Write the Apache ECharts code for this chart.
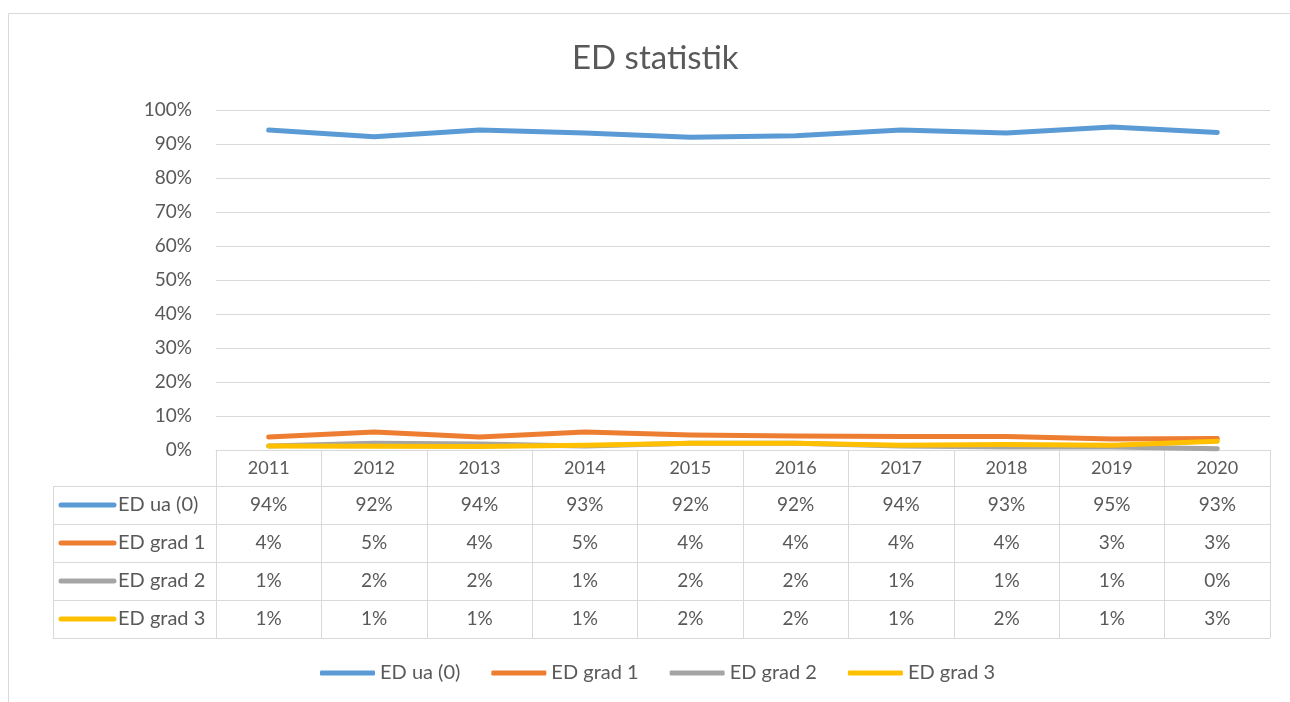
<!DOCTYPE html>
<html>
<head>
<meta charset="utf-8">
<script src="https://cdn.jsdelivr.net/npm/echarts@6/dist/echarts.min.js"></script>
<style>
  html, body { margin: 0; padding: 0; background: #fff; }
  #chart { width: 1290px; height: 702px; }
</style>
</head>
<body>
<div id="chart"></div>
<script>
const years = ['2011', '2012', '2013', '2014', '2015', '2016', '2017', '2018', '2019', '2020']
const seriesNames = ['ED ua (0)', 'ED grad 1', 'ED grad 2', 'ED grad 3']
// shares in percent (table shows them rounded)
const edUa = [94.1, 92.1, 94.1, 93.2, 92.0, 92.4, 94.1, 93.2, 95.0, 93.4]
const grad1 = [3.8, 5.3, 3.8, 5.3, 4.4, 4.1, 4.0, 4.0, 3.2, 3.4]
const grad2 = [1.2, 2.0, 1.8, 1.2, 2.0, 2.0, 1.2, 0.9, 0.9, 0.4]
const grad3 = [1.2, 1.1, 1.0, 1.4, 2.0, 2.0, 1.4, 1.6, 1.4, 2.6]

const colors = ['#5B9BD5', '#ED7D31', '#A5A5A5', '#FFC000']
const textColor = '#595959'
const lineColor = '#d9d9d9'
const font = 'Lato, "Open Sans", sans-serif'
const headH = 36
const rowH = 38
const tableLeft = 53

const allData = [edUa, grad1, grad2, grad3]

const chart = echarts.init(document.getElementById('chart'))

chart.setOption({
  animation: false,
  textStyle: { fontFamily: font, color: textColor },
  title: {
    text: 'ED statistik',
    left: 567,
    top: 37,
    textStyle: { fontSize: 33, fontWeight: 'normal', color: textColor, fontFamily: font }
  },
  grid: { left: 216, right: 20, top: 110, bottom: 252, containLabel: false },
  legend: {
    left: 315,
    top: 658,
    itemWidth: 55,
    itemHeight: 5,
    itemGap: 31,
    icon: 'roundRect',
    textStyle: { fontSize: 20, color: textColor, fontFamily: font },
    data: seriesNames
  },
  xAxis: {
    type: 'category',
    data: years,
    boundaryGap: true,
    axisLine: { lineStyle: { color: lineColor } },
    axisTick: { show: true, interval: 0, length: headH + rowH * 4, lineStyle: { color: lineColor } },
    axisLabel: { fontSize: 18, color: textColor, margin: 9, fontFamily: font }
  },
  yAxis: {
    type: 'value',
    min: 0,
    max: 100,
    interval: 10,
    axisLine: { show: false },
    axisTick: { show: false },
    splitLine: { lineStyle: { color: lineColor } },
    axisLabel: { fontSize: 19, color: textColor, margin: 24, formatter: '{value}%', fontFamily: font }
  },
  series: allData.map((d, i) => ({
    name: seriesNames[i],
    type: 'line',
    data: d,
    symbol: 'none',
    color: colors[i],
    lineStyle: { width: 5, color: colors[i], cap: 'round', join: 'round' }
  }))
})

// data table under the plot, positioned from the category axis
const cx = years.map((y, i) => chart.convertToPixel({ xAxisIndex: 0 }, i))
const colW = cx[1] - cx[0]
const xRight = cx[cx.length - 1] + colW / 2
const y0 = Math.round(chart.convertToPixel({ yAxisIndex: 0 }, 0))
const tableTop = y0 + headH
const tableBottom = tableTop + rowH * 4

const elements = [
  {
    type: 'rect', silent: true, z: -10,
    shape: { x: 8.5, y: 13.5, width: 1300, height: 700 },
    style: { fill: 'none', stroke: lineColor, lineWidth: 1 }
  },
  {
    type: 'line', silent: true,
    shape: { x1: tableLeft + 0.5, y1: tableTop, x2: tableLeft + 0.5, y2: tableBottom },
    style: { stroke: lineColor, lineWidth: 1 }
  }
]

for (let r = 0; r <= 4; r++) {
  const y = tableTop + r * rowH + 0.5
  elements.push({
    type: 'line', silent: true,
    shape: { x1: tableLeft, y1: y, x2: xRight, y2: y },
    style: { stroke: lineColor, lineWidth: 1 }
  })
}

allData.forEach((d, r) => {
  const yc = tableTop + r * rowH + rowH / 2
  elements.push({
    type: 'line', silent: true,
    shape: { x1: 61, y1: yc, x2: 114, y2: yc },
    style: { stroke: colors[r], lineWidth: 5, lineCap: 'round' }
  })
  elements.push({
    type: 'text', silent: true,
    x: 118, y: yc,
    style: { text: seriesNames[r], fill: textColor, font: '20px ' + font, textAlign: 'left', textVerticalAlign: 'middle' }
  })
  d.forEach((v, c) => {
    elements.push({
      type: 'text', silent: true,
      x: cx[c], y: yc,
      style: { text: Math.round(v) + '%', fill: textColor, font: '19px ' + font, textAlign: 'center', textVerticalAlign: 'middle' }
    })
  })
})

chart.setOption({ graphic: { elements } })

window.addEventListener('resize', () => chart.resize())
</script>
</body>
</html>
